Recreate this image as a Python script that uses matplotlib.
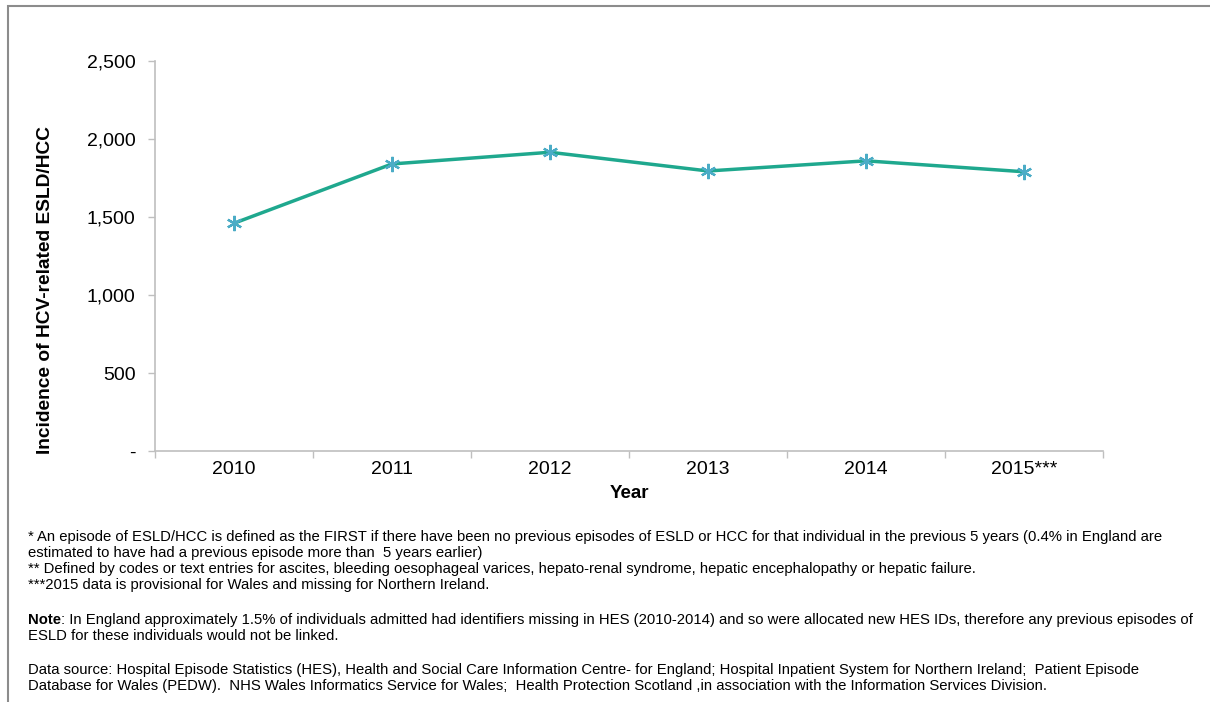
import matplotlib

matplotlib.use("Agg")
import matplotlib.pyplot as plt
from matplotlib.patches import Rectangle
from matplotlib.ticker import FuncFormatter

YEARS = ["2010", "2011", "2012", "2013", "2014", "2015***"]
INCIDENCE = [1460, 1840, 1915, 1795, 1860, 1790]
Y_TICKS = [0, 500, 1000, 1500, 2000, 2500]

FOOTNOTES = [
    "* An episode of ESLD/HCC is defined as the FIRST if there have been no previous episodes of ESLD or HCC "
    "for that individual in the previous 5 years (0.4% in England are",
    "estimated to have had a previous episode more than  5 years earlier)",
    "** Defined by codes or text entries for ascites, bleeding oesophageal varices, hepato-renal syndrome, "
    "hepatic encephalopathy or hepatic failure.",
    "***2015 data is provisional for Wales and missing for Northern Ireland.",
]
NOTE = [
    "In England approximately 1.5% of individuals admitted had identifiers missing in HES (2010-2014) and so "
    "were allocated new HES IDs, therefore any previous episodes of",
    "ESLD for these individuals would not be linked.",
]
SOURCE = [
    "Data source: Hospital Episode Statistics (HES), Health and Social Care Information Centre- for England; "
    "Hospital Inpatient System for Northern Ireland;  Patient Episode",
    "Database for Wales (PEDW).  NHS Wales Informatics Service for Wales;  Health Protection Scotland ,in "
    "association with the Information Services Division.",
]

W, H = 1210, 702
LINE = "#1fa88e"
MARK = "#4bacc6"
AXIS = "#bfbfbf"
FS_NOTE = 10.7

plt.rcParams["font.family"] = ["Liberation Sans", "DejaVu Sans"]

fig = plt.figure(figsize=(W / 100, H / 100), dpi=100)
ax = fig.add_axes([155 / W, 1 - 451 / H, 948 / W, 390 / H])

x = list(range(len(YEARS)))
ax.plot(x, INCIDENCE, color=LINE, lw=2.5, zorder=2)
ax.plot(x, INCIDENCE, ls="none", marker=(6, 2, 0), ms=11, mec=MARK, mew=1.6, zorder=3)

ax.set_xlim(-0.5, len(YEARS) - 0.5)
ax.set_ylim(0, 2500)
ax.set_yticks(Y_TICKS)
ax.yaxis.set_major_formatter(FuncFormatter(lambda v, _: "-" if v == 0 else f"{v:,.0f}"))
ax.set_xticks(x)
ax.set_xticklabels(YEARS)
ax.set_xticks([i - 0.5 for i in range(len(YEARS) + 1)], minor=True)
ax.tick_params(axis="x", which="major", length=0, pad=7, labelsize=14)
ax.tick_params(axis="x", which="minor", length=5, color=AXIS, width=1)
ax.tick_params(axis="y", length=5, color=AXIS, width=1, pad=9, labelsize=14)

for s in ["top", "right"]:
    ax.spines[s].set_visible(False)
for s in ["left", "bottom"]:
    ax.spines[s].set_color(AXIS)
    ax.spines[s].set_linewidth(1.2)

ax.set_xlabel("Year", fontsize=13.5, fontweight="bold", labelpad=5)
ax.set_ylabel("Incidence of HCV-related ESLD/HCC", fontsize=13.8, fontweight="bold")
ax.yaxis.set_label_coords(54 / W, 1 - 290 / H, transform=fig.transFigure)

# footnotes under the chart
fx = 28 / W
for i, t in enumerate(FOOTNOTES):
    fig.text(fx, 1 - (537 + 16 * i) / H, t, fontsize=FS_NOTE, va="center")
note = fig.text(fx, 1 - 620 / H, "Note", fontsize=FS_NOTE, va="center", fontweight="bold")
fig.canvas.draw()
bb = note.get_window_extent()
fig.text(bb.x1 / W, 1 - 620 / H, ": " + NOTE[0], fontsize=FS_NOTE, va="center")
fig.text(fx, 1 - 636 / H, NOTE[1], fontsize=FS_NOTE, va="center")
for i, t in enumerate(SOURCE):
    fig.text(fx, 1 - (670 + 16 * i) / H, t, fontsize=FS_NOTE, va="center")

# outer frame
fig.patches.append(Rectangle((8 / W, -0.1), 1.2, 1.1 - 6 / H, transform=fig.transFigure,
                             fill=False, ec="#8c8c8c", lw=1.5))

fig.savefig("out.png", dpi=100)
